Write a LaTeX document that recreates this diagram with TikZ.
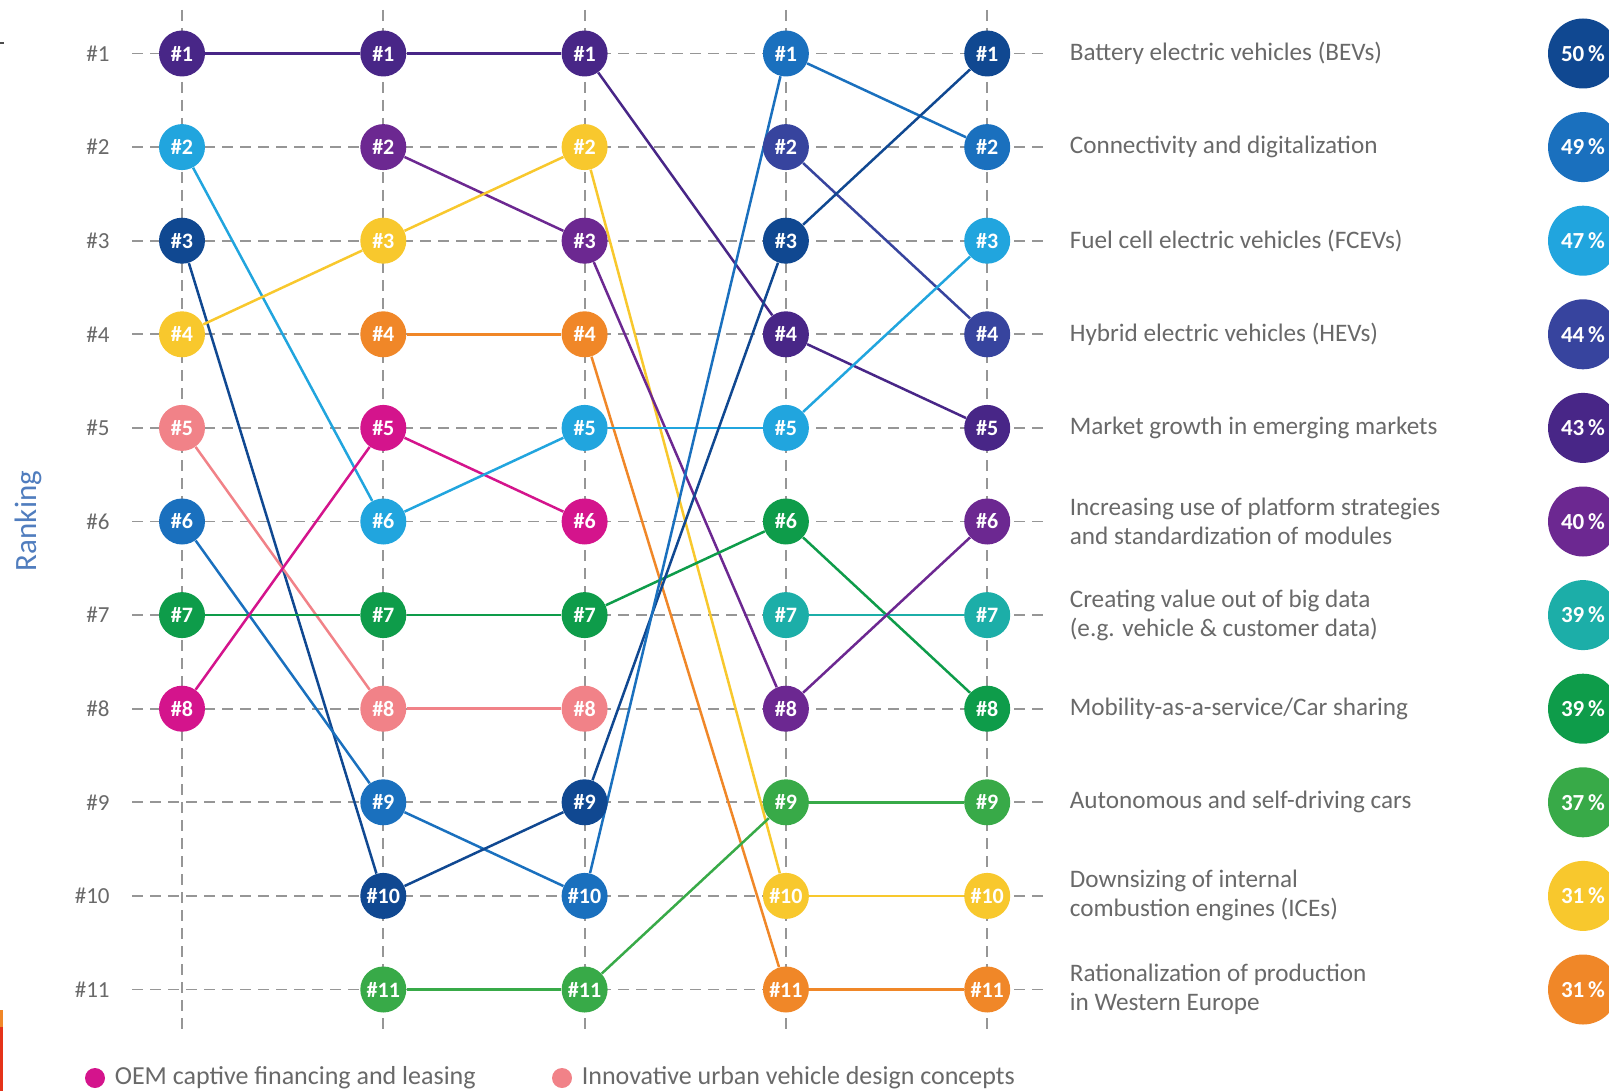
\documentclass[tikz,border=0pt]{standalone}
\usepackage{fontspec}
\setmainfont{Carlito}
\usetikzlibrary{positioning, backgrounds}

\definecolor{bev}{RGB}{16,72,145}
\definecolor{conn}{RGB}{26,112,190}
\definecolor{fcev}{RGB}{33,165,222}
\definecolor{hev}{RGB}{55,68,158}
\definecolor{mgrowth}{RGB}{72,38,135}
\definecolor{platform}{RGB}{108,40,145}
\definecolor{bigdata}{RGB}{28,174,168}
\definecolor{maas}{RGB}{14,156,74}
\definecolor{selfdrive}{RGB}{56,170,72}
\definecolor{ice}{RGB}{248,200,45}
\definecolor{ratprod}{RGB}{240,135,40}
\definecolor{oem}{RGB}{212,20,140}
\definecolor{urban}{RGB}{241,130,136}
\definecolor{gridgray}{RGB}{150,150,150}
\definecolor{textgray}{RGB}{105,105,105}
\definecolor{rankblue}{RGB}{80,125,190}

\tikzset{
	rank/.style={circle, minimum size=23pt, inner sep=0pt, text=white, font=\bfseries\fontsize{11}{12}\selectfont},
	share/.style={circle, minimum size=35pt, inner sep=0pt, text=white, font=\bfseries\fontsize{11.5}{12}\selectfont},
	issue/.style={anchor=west, align=left, inner sep=0pt, text=textgray, font=\fontsize{12.6}{14.5}\selectfont},
	place/.style={anchor=east, inner sep=0pt, text=textgray, font=\fontsize{11.5}{13}\selectfont},
	legend/.style={inner sep=0pt, text=textgray, font=\fontsize{13}{14}\selectfont},
	link/.style={line width=1.25pt},
	guide/.style={gridgray, line width=0.9pt, dash pattern=on 5.5pt off 3.5pt}}

\begin{document}
\begin{tikzpicture}[x=0.5pt, y=-0.5pt]
	\useasboundingbox (0,0) rectangle (1609,1091);

	% ranks per column, top to bottom
	\foreach \c [count=\r] in {mgrowth, fcev, bev, ice, urban, conn, maas, oem}
		\node[rank, fill=\c] (a\r) at (182, {53.5+(\r-1)*93.6}) {\#\r};
	\foreach \c [count=\r] in {mgrowth, platform, ice, ratprod, oem, fcev, maas, urban, conn, bev, selfdrive}
		\node[rank, fill=\c] (b\r) at (383.3, {53.5+(\r-1)*93.6}) {\#\r};
	\foreach \c [count=\r] in {mgrowth, ice, platform, ratprod, fcev, oem, maas, urban, bev, conn, selfdrive}
		\node[rank, fill=\c] (c\r) at (584.6, {53.5+(\r-1)*93.6}) {\#\r};
	\foreach \c [count=\r] in {conn, hev, bev, mgrowth, fcev, maas, bigdata, platform, selfdrive, ice, ratprod}
		\node[rank, fill=\c] (d\r) at (785.9, {53.5+(\r-1)*93.6}) {\#\r};
	\foreach \c [count=\r] in {bev, conn, fcev, hev, mgrowth, platform, bigdata, maas, selfdrive, ice, ratprod}
		\node[rank, fill=\c] (e\r) at (987.2, {53.5+(\r-1)*93.6}) {\#\r};

	% row numbers
	\foreach \r in {1,...,11}
		\node[place] (row\r) at (110, {53.5+(\r-1)*93.6}) {\#\r};
	\node[rotate=90, text=rankblue, font=\fontsize{15.5}{17}\selectfont] (ranking) at (28,521) {Ranking};

	% issues and shares
	\node[issue, right=29.4pt of e1] (t1) {Battery electric vehicles (BEVs)};
	\node[issue, right=29.4pt of e2] (t2) {Connectivity and digitalization};
	\node[issue, right=29.4pt of e3] (t3) {Fuel cell electric vehicles (FCEVs)};
	\node[issue, right=29.4pt of e4] (t4) {Hybrid electric vehicles (HEVs)};
	\node[issue, right=29.4pt of e5] (t5) {Market growth in emerging markets};
	\node[issue, right=29.4pt of e6] (t6) {Increasing use of platform strategies\\and standardization of modules};
	\node[issue, right=29.4pt of e7] (t7) {Creating value out of big data\\(e.g. vehicle \& customer data)};
	\node[issue, right=29.4pt of e8] (t8) {Mobility-as-a-service/Car sharing};
	\node[issue, right=29.4pt of e9] (t9) {Autonomous and self-driving cars};
	\node[issue, right=29.4pt of e10] (t10) {Downsizing of internal\\combustion engines (ICEs)};
	\node[issue, right=29.4pt of e11] (t11) {Rationalization of production\\in Western Europe};

	\foreach \c/\p [count=\r] in {bev/50, conn/49, fcev/47, hev/44, mgrowth/43, platform/40, bigdata/39, maas/39, selfdrive/37, ice/31, ratprod/31}
		\node[share, fill=\c] (s\r) at (1583, {53.5+(\r-1)*93.6}) {\p\,\%};

	% legend
	\node[circle, fill=oem, minimum size=10pt, inner sep=0pt] (dotoem) at (95,1078) {};
	\node[legend, right=4.5pt of dotoem] (keyoem) {OEM captive financing and leasing};
	\node[circle, fill=urban, minimum size=10pt, inner sep=0pt] (doturban) at (562,1078) {};
	\node[legend, right=4.5pt of doturban] (keyurban) {Innovative urban vehicle design concepts};

	\begin{pgfonlayer}{background}
		\foreach \r in {1,...,11}
			\draw[guide] (132, {53.5+(\r-1)*93.6}) -- (1047, {53.5+(\r-1)*93.6});
		\foreach \x in {182, 383.3, 584.6, 785.9, 987.2}
			\draw[guide] (\x, 10) -- (\x, 1035);

		\path[link]
		(a1) edge[mgrowth] (b1)
		(a2) edge[fcev] (b6)
		(a3) edge[bev] (b10)
		(a4) edge[ice] (b3)
		(a5) edge[urban] (b8)
		(a6) edge[conn] (b9)
		(a7) edge[maas] (b7)
		(a8) edge[oem] (b5)
		(b1) edge[mgrowth] (c1)
		(b2) edge[platform] (c3)
		(b3) edge[ice] (c2)
		(b4) edge[ratprod] (c4)
		(b5) edge[oem] (c6)
		(b6) edge[fcev] (c5)
		(b7) edge[maas] (c7)
		(b8) edge[urban] (c8)
		(b9) edge[conn] (c10)
		(b10) edge[bev] (c9)
		(b11) edge[selfdrive] (c11)
		(c1) edge[mgrowth] (d4)
		(c2) edge[ice] (d10)
		(c3) edge[platform] (d8)
		(c4) edge[ratprod] (d11)
		(c5) edge[fcev] (d5)
		(c7) edge[maas] (d6)
		(c9) edge[bev] (d3)
		(c10) edge[conn] (d1)
		(c11) edge[selfdrive] (d9)
		(d1) edge[conn] (e2)
		(d2) edge[hev] (e4)
		(d3) edge[bev] (e1)
		(d4) edge[mgrowth] (e5)
		(d5) edge[fcev] (e3)
		(d6) edge[maas] (e8)
		(d7) edge[bigdata] (e7)
		(d8) edge[platform] (e6)
		(d9) edge[selfdrive] (e9)
		(d10) edge[ice] (e10)
		(d11) edge[ratprod] (e11)
		;
	\end{pgfonlayer}

	% edge of the cut-out page
	\fill[ratprod] (0,1010) rectangle (2.5,1027);
	\fill[red!60!brown] (0,1027) rectangle (2.5,1091);
	\fill[black!70] (0,42) rectangle (4,44);
\end{tikzpicture}
\end{document}
